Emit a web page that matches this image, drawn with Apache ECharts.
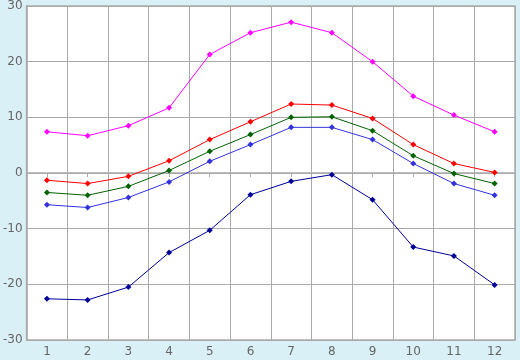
<!DOCTYPE html>
<html><head><meta charset="utf-8">
<script src="https://cdn.jsdelivr.net/npm/echarts@6/dist/echarts.min.js"></script>
<style>html,body{margin:0;padding:0;background:#daf0f7;}#c{width:520px;height:360px;}</style>
</head><body><div id="c"></div>
<script>
const categories = ['1','2','3','4','5','6','7','8','9','10','11','12'];
const magenta = [7.4, 6.7, 8.5, 11.7, 21.3, 25.2, 27.1, 25.2, 20.0, 13.8, 10.4, 7.4];
const red = [-1.3, -1.9, -0.6, 2.2, 6.0, 9.2, 12.4, 12.2, 9.8, 5.1, 1.7, 0.1];
const green = [-3.5, -4.0, -2.4, 0.45, 3.9, 6.9, 10.0, 10.1, 7.6, 3.1, -0.1, -1.9];
const blue = [-5.7, -6.2, -4.4, -1.6, 2.1, 5.1, 8.2, 8.2, 6.0, 1.7, -1.9, -4.0];
const navy = [-22.6, -22.8, -20.5, -14.3, -10.3, -3.9, -1.5, -0.3, -4.8, -13.3, -14.9, -20.1];
const yTicks = {min: -30, max: 30, interval: 10};

const chart = echarts.init(document.getElementById('c'));
function s(data, color) {
  return {type: 'line', data: data, symbol: 'diamond', symbolSize: 6,
    itemStyle: {color: color}, lineStyle: {color: color, width: 1}, animation: false};
}
chart.setOption({
  backgroundColor: '#daf0f7',
  animation: false,
  grid: {left: 26, right: 5, top: 6, bottom: 20, containLabel: false,
    show: true, backgroundColor: '#ffffff', borderWidth: 1.5, borderColor: '#aaaaaa'},
  xAxis: {type: 'category', data: categories, boundaryGap: true,
    axisLine: {lineStyle: {color: '#aaaaaa', width: 1.5}},
    axisTick: {show: true, alignWithLabel: true, length: 4, lineStyle: {color: '#aaaaaa'}},
    axisLabel: {color: '#666666', fontSize: 12, fontFamily: 'DejaVu Sans', margin: 6},
    splitLine: {show: true, lineStyle: {color: '#aaaaaa', width: 1}}},
  yAxis: {type: 'value', min: yTicks.min, max: yTicks.max, interval: yTicks.interval,
    axisLine: {show: true, lineStyle: {color: '#aaaaaa', width: 1.5}},
    axisTick: {show: false},
    axisLabel: {color: '#666666', fontSize: 12, fontFamily: 'DejaVu Sans', margin: 4},
    splitLine: {show: true, lineStyle: {color: '#aaaaaa', width: 1}}},
  series: [s(magenta, '#ff00ff'), s(red, '#ff0000'), s(green, '#006400'), s(blue, '#3333dd'), s(navy, '#000099')]
});
</script></body></html>
